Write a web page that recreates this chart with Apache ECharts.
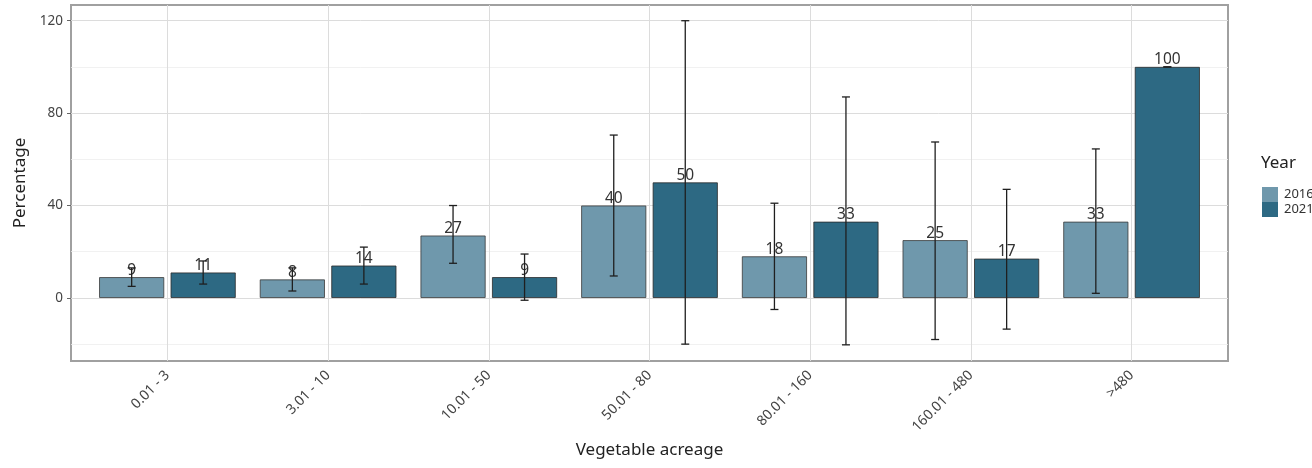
<!DOCTYPE html>
<html>
<head>
<meta charset="utf-8">
<script src="https://cdn.jsdelivr.net/npm/echarts@6/dist/echarts.min.js"></script>
<style>
html,body{margin:0;padding:0;background:#fff;}
#c{width:1312px;height:468px;}
</style>
</head>
<body>
<div id="c"></div>
<script>
const categories = ['0.01 - 3','3.01 - 10','10.01 - 50','50.01 - 80','80.01 - 160','160.01 - 480','>480'];
const years = ['2016','2021'];
const pct2016 = [9, 8, 27, 40, 18, 25, 33];
const pct2021 = [11, 14, 9, 50, 33, 17, 100];
const low2016 = [5, 3, 15, 9.5, -5, -18, 2];
const high2016 = [13, 13, 40, 70.5, 41, 67.5, 64.5];
const low2021 = [6, 6, -1, -20, -20.3, -13.5, 100];
const high2021 = [16, 22, 19, 120, 87, 47, 100];
const yMajorTicks = [0, 40, 80, 120];
const yMinorTicks = [-20, 20, 60, 100];
const xPositions = categories.map((c, i) => i + 1);

const colors = ['#6f98ac', '#2d6983'];
const FONT = 'Noto Sans';
const BAR_FRAC = 0.405;
const GAP_FRAC = 0.04;

function barData(vals) { return vals.map((v, i) => [xPositions[i], v]); }
function errData(lo, hi) { return lo.map((l, i) => [xPositions[i], l, hi[i]]); }

function errRender(side) {
  return function (params, api) {
    const x = api.value(0);
    const band = api.size([1, 0])[0];
    const off = side * band * (BAR_FRAC + GAP_FRAC) / 2;
    const pLo = api.coord([x, api.value(1)]);
    const pHi = api.coord([x, api.value(2)]);
    const cx = pLo[0] + off;
    const cap = 4;
    const style = { stroke: '#1f1f1f', lineWidth: 1.3 };
    return {
      type: 'group',
      children: [
        { type: 'line', shape: { x1: cx, y1: pLo[1], x2: cx, y2: pHi[1] }, style },
        { type: 'line', shape: { x1: cx - cap, y1: pLo[1], x2: cx + cap, y2: pLo[1] }, style },
        { type: 'line', shape: { x1: cx - cap, y1: pHi[1], x2: cx + cap, y2: pHi[1] }, style }
      ]
    };
  };
}

const gridLineData = []
  .concat(yMinorTicks.map(v => ({ yAxis: v, lineStyle: { color: '#ededed', width: 0.8, type: 'solid' } })))
  .concat(yMajorTicks.map(v => ({ yAxis: v, lineStyle: { color: '#dcdcdc', width: 1, type: 'solid' } })))
  .concat(xPositions.map(v => ({ xAxis: v, lineStyle: { color: '#dcdcdc', width: 1, type: 'solid' } })));

const chart = echarts.init(document.getElementById('c'));
chart.setOption({
  animation: false,
  backgroundColor: '#ffffff',
  textStyle: { fontFamily: FONT },
  title: {
    text: 'Year', left: 1256, top: 150,
    textStyle: { fontFamily: FONT, fontSize: 17, fontWeight: 'normal', color: '#222' }
  },
  legend: {
    data: years, orient: 'vertical', left: 1257, top: 182,
    itemWidth: 16, itemHeight: 15, itemGap: 0, icon: 'rect',
    itemStyle: { borderWidth: 0 },
    textStyle: { fontFamily: FONT, fontSize: 13, color: '#333', padding: [0, 0, 0, 1] }
  },
  grid: {
    left: 71, right: 84, top: 5, bottom: 107,
    show: true, borderColor: '#a0a0a0', borderWidth: 2, backgroundColor: '#fff'
  },
  xAxis: {
    type: 'value', min: 0.4, max: 7.6,
    name: 'Vegetable acreage', nameLocation: 'middle', nameGap: 81,
    nameTextStyle: { fontFamily: FONT, fontSize: 17, color: '#222' },
    axisLine: { show: false },
    axisTick: { show: true, customValues: xPositions, length: 4, lineStyle: { color: '#666' } },
    axisLabel: {
      customValues: xPositions, rotate: 45, margin: 12,
      fontFamily: FONT, fontSize: 14, color: '#444',
      formatter: v => categories[Math.round(v) - 1] || ''
    },
    splitLine: { show: false }
  },
  yAxis: {
    type: 'value', min: -27.3, max: 126.8,
    name: 'Percentage', nameLocation: 'middle', nameGap: 38,
    nameTextStyle: { fontFamily: FONT, fontSize: 17, color: '#222' },
    axisLine: { show: false },
    axisTick: { show: true, customValues: yMajorTicks, length: 4, lineStyle: { color: '#666' } },
    axisLabel: { customValues: yMajorTicks, margin: 8, fontFamily: FONT, fontSize: 13.5, color: '#444' },
    splitLine: { show: false }
  },
  series: [
    {
      name: 'gridlines', type: 'line', data: [], silent: true, z: 1,
      markLine: { silent: true, z: 1, symbol: 'none', label: { show: false }, animation: false, data: gridLineData }
    },
    {
      name: years[0], type: 'bar', data: barData(pct2016),
      barWidth: (BAR_FRAC * 100) + '%', barGap: (GAP_FRAC / BAR_FRAC * 100) + '%',
      itemStyle: { color: colors[0], borderColor: '#3a3a3a', borderWidth: 0.8 },
      label: { show: true, position: 'top', distance: -1, fontFamily: FONT, fontSize: 15.5, color: '#333',
        formatter: p => p.value[1] },
      z: 3
    },
    {
      name: years[1], type: 'bar', data: barData(pct2021),
      barWidth: (BAR_FRAC * 100) + '%',
      itemStyle: { color: colors[1], borderColor: '#2a2a2a', borderWidth: 0.8 },
      label: { show: true, position: 'top', distance: -1, fontFamily: FONT, fontSize: 15.5, color: '#333',
        formatter: p => p.value[1] },
      z: 3
    },
    {
      name: 'err2016', type: 'custom', renderItem: errRender(-1), data: errData(low2016, high2016),
      encode: { x: 0, y: [1, 2] }, z: 4, silent: true
    },
    {
      name: 'err2021', type: 'custom', renderItem: errRender(1), data: errData(low2021, high2021),
      encode: { x: 0, y: [1, 2] }, z: 4, silent: true
    }
  ]
});
</script>
</body>
</html>
